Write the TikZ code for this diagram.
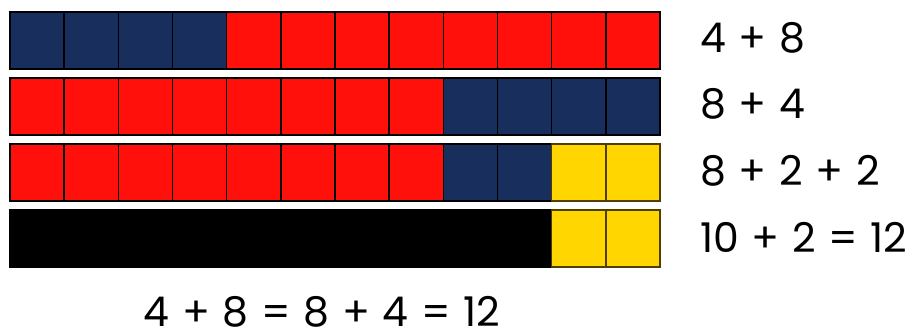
\documentclass[tikz,border=0pt]{standalone}
\usepackage{fontspec}
\setmainfont{Poppins}[WordSpace=1.15]
\usetikzlibrary{positioning}
\definecolor{rodblue}{RGB}{24,46,92}
\definecolor{rodred}{RGB}{255,16,10}
\definecolor{rodyellow}{RGB}{255,214,0}
\definecolor{rodedge}{RGB}{80,62,0}

\begin{document}
\begin{tikzpicture}[x=1pt,y=-1pt,
    cell/.style={draw=black,line width=1.5pt,minimum width=54.17pt,
      minimum height=57pt,inner sep=0pt,outer sep=0pt,anchor=north west},
    blue cell/.style={cell,fill=rodblue},
    red cell/.style={cell,fill=rodred},
    yellow cell/.style={cell,fill=rodyellow,draw=rodedge},
    sum label/.style={font=\fontsize{41}{41}\selectfont,anchor=west,inner sep=0pt}]

    \useasboundingbox (0,0) rectangle (920,333);

    % 4 + 8
    \foreach \i in {0,...,3}
      \node[blue cell] (a\i) at ({10+54.17*\i},12) {};
    \foreach \i in {4,...,11}
      \node[red cell] (a\i) at ({10+54.17*\i},12) {};
    % 8 + 4
    \foreach \i in {0,...,7}
      \node[red cell] (b\i) at ({10+54.17*\i},78) {};
    \foreach \i in {8,...,11}
      \node[blue cell] (b\i) at ({10+54.17*\i},78) {};
    % 8 + 2 + 2
    \foreach \i in {0,...,7}
      \node[red cell] (c\i) at ({10+54.17*\i},144) {};
    \foreach \i in {8,9}
      \node[blue cell] (c\i) at ({10+54.17*\i},144) {};
    \foreach \i in {10,11}
      \node[yellow cell] (c\i) at ({10+54.17*\i},144) {};
    % 10 + 2
    \node[cell,fill=black,minimum width=541.7pt] (ten) at (10,210) {};
    \foreach \i in {10,11}
      \node[yellow cell] (d\i) at ({10+54.17*\i},210) {};

    \node[sum label] (s1) at (700,38) {4 + 8};
    \node[sum label] (s2) at (700,104) {8 + 4};
    \node[sum label] (s3) at (700,171) {8 + 2 + 2};
    \node[sum label] (s4) at (700,237) {10 + 2 = 12};
    \node[sum label,anchor=center] (total) at (322,312)
      {4 + 8 = 8 + 4 = 12};
\end{tikzpicture}
\end{document}
